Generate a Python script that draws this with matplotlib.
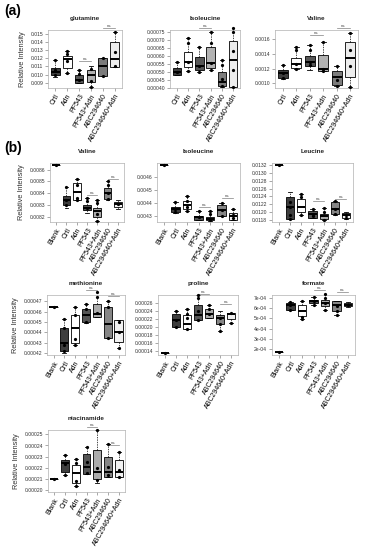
import matplotlib
matplotlib.use("Agg")
import matplotlib.pyplot as plt
import numpy as np

plt.rcParams['font.family'] = ['Liberation Sans', 'DejaVu Sans']

W, H = 365, 550

groups_a = ['Crtl', 'Adn', 'PF543', 'PF543+Adn', 'ABC294640', 'ABC294640+Adn']
groups_b = ['Blank'] + groups_a

# ---- (a) glutamine
glu_lo = [0.00976, 0.01016, 0.00892, 0.00852, 0.00984, 0.01092]
glu_q1 = [0.00992, 0.01084, 0.00896, 0.00904, 0.00984, 0.01092]
glu_med = [0.01032, 0.01184, 0.00932, 0.00992, 0.01100, 0.01192]
glu_q3 = [0.01084, 0.01224, 0.00992, 0.01056, 0.01204, 0.01392]
glu_hi = [0.01180, 0.01284, 0.01056, 0.01100, 0.01204, 0.01516]
glu_pts = [[0.0118, 0.0105, 0.0099], [0.01284, 0.01256, 0.01164, 0.01016],
           [0.01056, 0.01004, 0.00932], [0.01064, 0.00924, 0.00852],
           [0.01204, 0.00984], [0.01516, 0.01276, 0.01104]]
glu_ns = [(2, 3, 0.0116), (4, 5, 0.0157)]

# ---- (a) isoleucine
ilea_lo = [0.000482, 0.000508, 0.000502, 0.000513, 0.000406, 0.000406]
ilea_q1 = [0.000482, 0.000529, 0.000515, 0.000525, 0.000412, 0.000406]
ilea_med = [0.000498, 0.000564, 0.000539, 0.000556, 0.000437, 0.000574]
ilea_q3 = [0.000525, 0.000627, 0.000594, 0.000656, 0.000502, 0.000693]
ilea_hi = [0.000560, 0.000713, 0.000656, 0.000750, 0.000574, 0.000775]
ilea_pts = [[0.00056, 0.000498], [0.000713, 0.000682, 0.000564, 0.000508],
            [0.000656, 0.000539, 0.000502], [0.00075, 0.000682, 0.000556, 0.000513],
            [0.000574, 0.000545, 0.000457, 0.000412],
            [0.000775, 0.00075, 0.000635, 0.000513, 0.000406]]
ilea_ns = [(2, 3, 0.00078)]

# ---- (a) valine
vala_lo = [0.001057, 0.001200, 0.001187, 0.001165, 0.000961, 0.000948]
vala_q1 = [0.001078, 0.001209, 0.001239, 0.001174, 0.000978, 0.001087]
vala_med = [0.001135, 0.001261, 0.001287, 0.001196, 0.001091, 0.001339]
vala_q3 = [0.001187, 0.001348, 0.001370, 0.001391, 0.001165, 0.001565]
vala_hi = [0.001243, 0.001491, 0.001513, 0.001565, 0.001230, 0.001678]
vala_pts = [[0.001243, 0.001135, 0.00108], [0.001491, 0.001448, 0.001261, 0.0012],
            [0.001513, 0.001448, 0.001287, 0.001252], [0.001565, 0.001196, 0.001174],
            [0.00123, 0.001043, 0.000961], [0.001678, 0.001457, 0.00123, 0.000948]]
vala_ns = [(2, 3, 0.001657), (4, 5, 0.001752)]

# ---- (b) valine
valb_lo = [0.008637, 0.008276, 0.008341, 0.008228, 0.008163, 0.008341, 0.008268]
valb_q1 = [0.008637, 0.008296, 0.008341, 0.008256, 0.008200, 0.008352, 0.008282]
valb_med = [0.008637, 0.008341, 0.008411, 0.008276, 0.008248, 0.008403, 0.008304]
valb_q3 = [0.008637, 0.008380, 0.008487, 0.008299, 0.008276, 0.008445, 0.008324]
valb_hi = [0.008637, 0.008451, 0.008524, 0.008360, 0.008338, 0.008501, 0.008346]
valb_pts = [[0.008637], [0.008451, 0.008341, 0.008296], [0.008524, 0.008473, 0.00836, 0.008341],
            [0.00836, 0.008332, 0.008276], [0.008338, 0.008313, 0.00822, 0.008163],
            [0.008501, 0.008473, 0.008403, 0.008352], [0.008304]]
valb_ns = [(3, 4, 0.008383), (5, 6, 0.008521)]

# ---- (b) isoleucine
ileb_lo = [0.004689, 0.004320, 0.004340, 0.004269, 0.004256, 0.004295, 0.004264]
ileb_q1 = [0.004689, 0.004328, 0.004351, 0.004269, 0.004264, 0.004300, 0.004269]
ileb_med = [0.004689, 0.004351, 0.004384, 0.004287, 0.004274, 0.004346, 0.004300]
ileb_q3 = [0.004689, 0.004371, 0.004414, 0.004300, 0.004290, 0.004384, 0.004320]
ileb_hi = [0.004689, 0.004409, 0.004452, 0.004333, 0.004333, 0.004402, 0.004351]
ileb_pts = [[0.004689], [0.004409, 0.004351, 0.004328], [0.004452, 0.004414, 0.004371, 0.00434],
            [0.004333, 0.004287], [0.004333, 0.004315, 0.004264],
            [0.004402, 0.004346, 0.0043], [0.004351, 0.004307, 0.004282]]
ileb_ns = [(3, 4, 0.004366), (5, 6, 0.004435)]

# ---- (b) leucine
leu_lo = [0.0132, 0.011842, 0.011926, 0.011867, 0.011800, 0.011926, 0.011842]
leu_q1 = [0.0132, 0.011842, 0.012010, 0.011867, 0.011842, 0.011968, 0.011867]
leu_med = [0.0132, 0.012135, 0.012135, 0.011968, 0.011901, 0.012094, 0.011926]
leu_q3 = [0.0132, 0.012387, 0.012345, 0.012027, 0.011968, 0.012261, 0.011985]
leu_hi = [0.0132, 0.012513, 0.012471, 0.012094, 0.012119, 0.012286, 0.012010]
leu_pts = [[0.0132], [0.012261, 0.012135, 0.011926, 0.011842], [0.012471, 0.012387, 0.011926],
           [0.012094, 0.011968, 0.011901], [0.012119, 0.01201, 0.0118],
           [0.012286, 0.012094, 0.011968], [0.011926, 0.011867]]
leu_ns = [(3, 4, 0.012278), (5, 6, 0.012328)]

# ---- (b) methionine
met_lo = [0.000464, 0.000420, 0.000428, 0.000449, 0.000455, 0.000434, 0.000425]
met_q1 = [0.000464, 0.000422, 0.000430, 0.000450, 0.000455, 0.000434, 0.000431]
met_med = [0.000464, 0.000430, 0.000444, 0.000457, 0.000458, 0.000448, 0.000440]
met_q3 = [0.000464, 0.000444, 0.000457, 0.000462, 0.000467, 0.000464, 0.000452]
met_hi = [0.000464, 0.000453, 0.000464, 0.000467, 0.000479, 0.000470, 0.000452]
met_pts = [[0.000464], [0.000453, 0.000444, 0.000428, 0.000422], [0.000464, 0.000457, 0.000433, 0.000428],
           [0.000467, 0.000462, 0.00045], [0.000479, 0.000474, 0.000459],
           [0.00047, 0.000464, 0.000434], [0.00045, 0.00044, 0.000425]]
met_ns = [(3, 4, 0.000481), (5, 6, 0.000475)]

# ---- (b) proline
pro_lo = [0.000134, 0.000199, 0.000195, 0.000217, 0.000222, 0.000191, 0.000210]
pro_q1 = [0.000134, 0.000199, 0.000195, 0.000217, 0.000222, 0.000207, 0.000221]
pro_med = [0.000134, 0.000217, 0.000207, 0.000230, 0.000233, 0.000222, 0.000232]
pro_q3 = [0.000134, 0.000232, 0.000229, 0.000254, 0.000244, 0.000229, 0.000236]
pro_hi = [0.000134, 0.000240, 0.000244, 0.000280, 0.000256, 0.000241, 0.000236]
pro_pts = [[0.000134], [0.00024, 0.000217, 0.000199], [0.000244, 0.000232, 0.000222, 0.000195],
           [0.00028, 0.000272, 0.000241, 0.000217], [0.000256, 0.000244, 0.000233],
           [0.000223, 0.000207, 0.000191], [0.000236, 0.00021]]
pro_ns = [(3, 4, 0.000283), (5, 6, 0.000258)]

# ---- (b) formate
for_lo = [1.69e-4, 5.84e-4, 4.96e-4, 6.31e-4, 5.84e-4, 5.27e-4, 6.06e-4]
for_q1 = [1.69e-4, 5.84e-4, 5.21e-4, 6.47e-4, 6.15e-4, 5.74e-4, 6.15e-4]
for_med = [1.69e-4, 6.25e-4, 5.74e-4, 6.62e-4, 6.47e-4, 6.25e-4, 6.31e-4]
for_q3 = [1.69e-4, 6.47e-4, 6.31e-4, 6.72e-4, 6.78e-4, 6.62e-4, 6.47e-4]
for_hi = [1.69e-4, 6.56e-4, 6.69e-4, 7.09e-4, 7.31e-4, 6.69e-4, 6.56e-4]
for_pts = [[1.69e-4], [6.56e-4, 6.25e-4, 5.84e-4], [6.69e-4, 5.12e-4, 4.96e-4],
           [7.09e-4, 6.62e-4, 6.31e-4], [7.31e-4, 7.0e-4, 6.47e-4, 5.84e-4],
           [6.15e-4, 5.74e-4, 5.27e-4], [6.31e-4]]
for_ns = [(3, 4, 7.72e-4), (5, 6, 7.57e-4)]

# ---- (b) niacinamide
nia_lo = [0.000210, 0.000213, 0.000203, 0.000214, 0.000206, 0.000212, 0.000212]
nia_q1 = [0.000210, 0.000216, 0.000206, 0.000214, 0.000210, 0.000212, 0.000212]
nia_med = [0.000210, 0.000224, 0.000215, 0.000221, 0.000216, 0.000216, 0.000216]
nia_q3 = [0.000210, 0.000227, 0.000222, 0.000232, 0.000236, 0.000230, 0.000227]
nia_hi = [0.000210, 0.000231, 0.000228, 0.000239, 0.000254, 0.000241, 0.000234]
nia_pts = [[0.00021], [0.000231, 0.000223, 0.000213], [0.000228, 0.000224, 0.000208, 0.000203],
           [0.000239, 0.000225, 0.000215], [0.000254, 0.00022, 0.000209],
           [0.000241, 0.000221, 0.000213], [0.000234, 0.000218, 0.000212]]
nia_ns = [(3, 4, 0.000257), (5, 6, 0.00024)]

colors_a = ['#3e3e3e', '#ffffff', '#565656', '#b2b2b2', '#7c7c7c', '#ededed']
colors_b = ['#ffffff', '#3e3e3e', '#ffffff', '#565656', '#ababab', '#868686', '#f2f2f2']


def panel(px, title, labels, lo, q1, med, q3, hi, pts, ns, ylim, ticks, fmt, colors, ylabel=False):
    l, t, r, b = px
    ax = fig.add_axes([l / W, 1 - b / H, (r - l) / W, (b - t) / H])
    stats = [dict(whislo=lo[i], q1=q1[i], med=med[i], q3=q3[i], whishi=hi[i], fliers=[])
             for i in range(len(labels))]
    bp = ax.bxp(stats, widths=0.74, patch_artist=True, showfliers=False,
                boxprops=dict(edgecolor='black', linewidth=0.6),
                medianprops=dict(color='black', linewidth=1.4),
                whiskerprops=dict(color='black', linewidth=0.5, linestyle=(0, (2, 1.5))),
                capprops=dict(color='black', linewidth=0.6), capwidths=0.36)
    for patch, c in zip(bp['boxes'], colors):
        patch.set_facecolor(c)
    for i, p in enumerate(pts):
        ax.plot(np.full(len(p), i + 1), p, 'o', ms=1.3, color='black', clip_on=False, zorder=4)
    for i, j, y in ns:
        ax.plot([i + 1, j + 1], [y, y], color='#808080', lw=0.5, clip_on=False)
        ax.text((i + j) / 2 + 1, y, 'ns', ha='center', va='bottom', fontsize=3.2, color='#555555')
    ax.set_ylim(*ylim)
    ax.set_xlim(0.4, len(labels) + 0.6)
    ax.set_yticks(ticks)
    ax.set_yticklabels([fmt(v) for v in ticks], fontsize=3.6, color='#333333')
    ax.set_xticks(range(1, len(labels) + 1))
    ax.set_xticklabels(labels, rotation=60, ha='right', rotation_mode='anchor', fontsize=5)
    ax.tick_params(length=2, width=0.4, color='#666666', pad=1.5)
    for s in ax.spines.values():
        s.set_color('#b0b0b0')
        s.set_linewidth(0.5)
    ax.text(0.5, 1 + 9 / (b - t), title, transform=ax.transAxes, ha='center', va='bottom',
            fontsize=4.6, fontweight='bold', color='#222222')
    if ylabel:
        ax.set_ylabel('Relative Intensity', fontsize=5.3, color='#333333', labelpad=3)
    return ax


fig = plt.figure(figsize=(W / 100, H / 100), dpi=100)

panel((48, 30, 122, 88), 'glutamine', groups_a, glu_lo, glu_q1, glu_med, glu_q3, glu_hi,
      glu_pts, glu_ns, (0.00836, 0.01544), [0.009, 0.010, 0.011, 0.012, 0.013, 0.014, 0.015],
      lambda v: '%.3f' % v, colors_a, ylabel=True)
panel((170, 30, 240, 88), 'Isoleucine', groups_a, ilea_lo, ilea_q1, ilea_med, ilea_q3, ilea_hi,
      ilea_pts, ilea_ns, (0.000398, 0.000765), [0.0004, 0.00045, 0.0005, 0.00055, 0.0006, 0.00065, 0.0007, 0.00075],
      lambda v: '%.5f' % v, colors_a)
panel((275, 30, 358, 88), 'Valine', groups_a, vala_lo, vala_q1, vala_med, vala_q3, vala_hi,
      vala_pts, vala_ns, (0.000939, 0.001722), [0.0010, 0.0012, 0.0014, 0.0016],
      lambda v: '%.4f' % v, colors_a)

panel((50, 163, 124, 222), 'Valine', groups_b, valb_lo, valb_q1, valb_med, valb_q3, valb_hi,
      valb_pts, valb_ns, (0.008155, 0.008656), [0.0082, 0.0083, 0.0084, 0.0085, 0.0086],
      lambda v: '%.4f' % v, colors_b, ylabel=True)
panel((157, 163, 240, 222), 'Isoleucine', groups_b, ileb_lo, ileb_q1, ileb_med, ileb_q3, ileb_hi,
      ileb_pts, ileb_ns, (0.004252, 0.004707), [0.0043, 0.0044, 0.0045, 0.0046],
      lambda v: '%.4f' % v, colors_b)
panel((272, 163, 353, 222), 'Leucine', groups_b, leu_lo, leu_q1, leu_med, leu_q3, leu_hi,
      leu_pts, leu_ns, (0.011758, 0.013242), [0.0118, 0.0120, 0.0122, 0.0124, 0.0126, 0.0128, 0.0130, 0.0132],
      lambda v: '%.4f' % v, colors_b)

panel((47, 295, 125, 355), 'methionine', groups_b, met_lo, met_q1, met_med, met_q3, met_hi,
      met_pts, met_ns, (0.000418, 0.000476), [0.00042, 0.00043, 0.00044, 0.00045, 0.00046, 0.00047],
      lambda v: '%.5f' % v, colors_b, ylabel=True)
panel((158, 295, 238, 355), 'proline', groups_b, pro_lo, pro_q1, pro_med, pro_q3, pro_hi,
      pro_pts, pro_ns, (0.00013, 0.00028), [0.00014, 0.00016, 0.00018, 0.0002, 0.00022, 0.00024, 0.00026],
      lambda v: '%.5f' % v, colors_b)
panel((272, 295, 355, 355), 'formate', groups_b, for_lo, for_q1, for_med, for_q3, for_hi,
      for_pts, for_ns, (1.43e-4, 7.25e-4), [2e-4, 3e-4, 4e-4, 5e-4, 6e-4, 7e-4],
      lambda v: '%de-04' % round(v * 1e4), colors_b)

panel((48, 430, 125, 492), 'niacinamide', groups_b, nia_lo, nia_q1, nia_med, nia_q3, nia_hi,
      nia_pts, nia_ns, (0.000198, 0.000254), [0.0002, 0.00021, 0.00022, 0.00023, 0.00024, 0.00025],
      lambda v: '%.5f' % v, colors_b, ylabel=True)

fig.text(4 / W, 1 - 11 / H, '(a)', fontsize=10, fontweight='bold', va='center', ha='left')
fig.text(4 / W, 1 - 148 / H, '(b)', fontsize=10, fontweight='bold', va='center', ha='left')

fig.savefig('out.png', dpi=100)
